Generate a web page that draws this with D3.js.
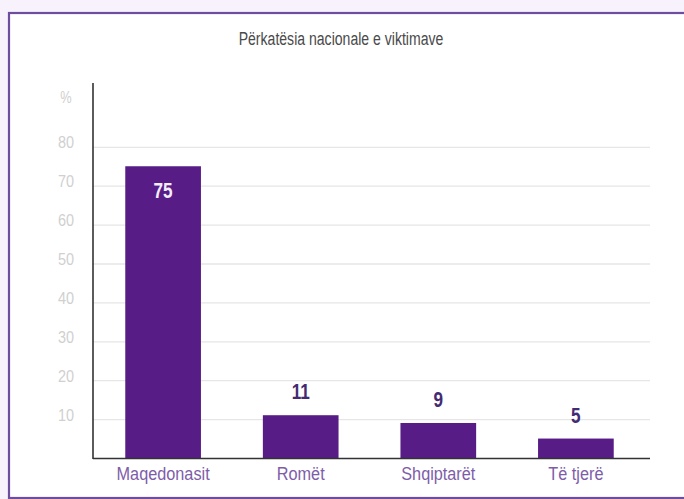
<!DOCTYPE html>
<html>
<head>
<meta charset="utf-8">
<script src="https://cdn.jsdelivr.net/npm/d3@7/dist/d3.min.js"></script>
<style>
  html, body { margin: 0; padding: 0; background: #f7f2fb; }
  svg { display: block; }
  text { font-family: "Liberation Sans", "Noto Sans", sans-serif; }
</style>
</head>
<body>
<svg id="chart" width="684" height="499"></svg>
<script>
// Nationality of victims (%)
const title = "Përkatësia nacionale e viktimave";
const categories = ["Maqedonasit", "Romët", "Shqiptarët", "Të tjerë"];
const values = [75, 11, 9, 5];
const yTicks = [10, 20, 30, 40, 50, 60, 70, 80];
const yUnit = "%";

const svg = d3.select("#chart");
const W = 684, H = 499;

// Place a horizontally squeezed text at (x, y)
function narrowText(sel, xPos, yPos, k) {
  return sel.attr("transform", (d, i) => `translate(${xPos(d, i)},${yPos(d, i)}) scale(${k},1)`);
}

// Framed panel
svg.append("rect")
  .attr("x", 9).attr("y", 13)
  .attr("width", W + 10).attr("height", H - 14)
  .attr("fill", "#ffffff")
  .attr("stroke", "#6e4d9e")
  .attr("stroke-width", 2.2);

const margin = { left: 93, right: 34, top: 83, bottom: 41 };
const x0 = margin.left, x1 = W - margin.right;
const yBase = H - margin.bottom;

const y = d3.scaleLinear().domain([0, 80]).range([yBase, yBase - 80 * 3.89]);
const x = d3.scaleBand().domain(categories).range([x0 + 2, x1 - 6]).paddingInner(0.45).paddingOuter(0.22);

// Title
svg.append("text")
  .datum(title)
  .call(narrowText, () => 341, () => 45, 0.74)
  .attr("text-anchor", "middle")
  .attr("font-size", 19)
  .attr("fill", "#4a4a4a")
  .text(d => d);

// Gridlines
const grid = svg.append("g")
  .attr("transform", `translate(${x0},0)`)
  .call(d3.axisLeft(y).tickValues(yTicks).tickSize(-(x1 - x0)).tickFormat(""));
grid.select(".domain").remove();
grid.selectAll(".tick line").attr("stroke", "#e6e6e6").attr("stroke-width", 1.3);

// Y tick labels
const yLab = svg.append("g")
  .attr("transform", `translate(66,0)`)
  .call(d3.axisLeft(y).tickValues(yTicks).tickSize(0).tickPadding(0));
yLab.select(".domain").remove();
yLab.selectAll(".tick text")
  .attr("x", 0)
  .attr("y", 1)
  .attr("dy", 0)
  .attr("text-anchor", "middle")
  .attr("font-size", 17)
  .attr("fill", "#d0d0d0")
  .attr("transform", "scale(0.85,1)")
  .style("font-family", "\"Liberation Sans\", sans-serif");

svg.append("text")
  .datum(yUnit)
  .call(narrowText, () => 66, () => 103, 0.8)
  .attr("text-anchor", "middle")
  .attr("font-size", 16)
  .attr("fill", "#d0d0d0")
  .text(d => d);

// Bars
svg.append("g").selectAll("rect")
  .data(categories)
  .join("rect")
  .attr("x", d => x(d))
  .attr("width", x.bandwidth())
  .attr("y", (d, i) => y(values[i]))
  .attr("height", (d, i) => yBase - y(values[i]))
  .attr("fill", "#581c87");

// Axes lines
svg.append("line")
  .attr("x1", x0).attr("x2", x0)
  .attr("y1", margin.top).attr("y2", yBase + 1)
  .attr("stroke", "#333").attr("stroke-width", 1.6);
svg.append("line")
  .attr("x1", x0).attr("x2", x1)
  .attr("y1", yBase + 0.5).attr("y2", yBase + 0.5)
  .attr("stroke", "#333").attr("stroke-width", 1.6);

// Value labels: inside the tall bar, above the short ones
svg.append("g").selectAll("text")
  .data(categories)
  .join("text")
  .call(narrowText,
        d => x(d) + x.bandwidth() / 2,
        (d, i) => values[i] > 30 ? y(values[i]) + 32 : y(values[i]) - 16,
        0.78)
  .attr("text-anchor", "middle")
  .attr("font-size", 22)
  .attr("font-weight", "bold")
  .attr("fill", (d, i) => values[i] > 30 ? "#f4eefc" : "#432a72")
  .text((d, i) => values[i]);

// Category labels
svg.append("g").selectAll("text")
  .data(categories)
  .join("text")
  .call(narrowText, d => x(d) + x.bandwidth() / 2, () => yBase + 22, 0.93)
  .attr("text-anchor", "middle")
  .attr("font-size", 17.5)
  .attr("fill", "#7e5da8")
  .text(d => d);
</script>
</body>
</html>
